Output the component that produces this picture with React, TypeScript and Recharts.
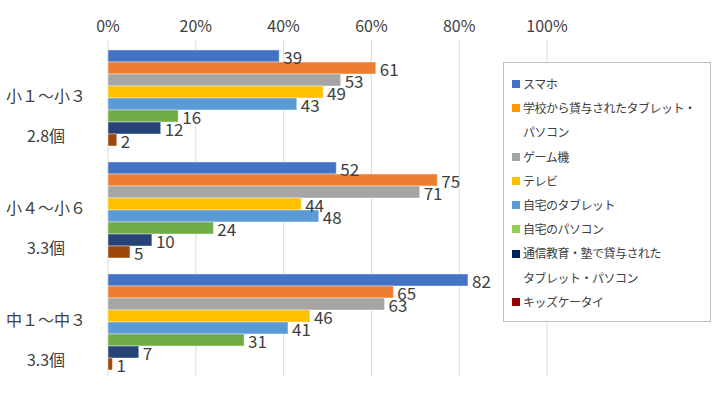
import { BarChart, Bar, XAxis, YAxis, CartesianGrid, LabelList } from 'recharts';

const categories = ['小１～小３', '小４～小６', '中１～中３'];
const counts = ['2.8個', '3.3個', '3.3個'];
const seriesNames = [
  'スマホ',
  '学校から貸与されたタブレット・パソコン',
  'ゲーム機',
  'テレビ',
  '自宅のタブレット',
  '自宅のパソコン',
  '通信教育・塾で貸与されたタブレット・パソコン',
  'キッズケータイ',
];
const legendLines = [
  ['スマホ'],
  ['学校から貸与されたタブレット・', 'パソコン'],
  ['ゲーム機'],
  ['テレビ'],
  ['自宅のタブレット'],
  ['自宅のパソコン'],
  ['通信教育・塾で貸与された', 'タブレット・パソコン'],
  ['キッズケータイ'],
];
const sumaho = [39, 52, 82];
const gakkou = [61, 75, 65];
const game = [53, 71, 63];
const terebi = [49, 44, 46];
const jitakuTablet = [43, 48, 41];
const jitakuPc = [16, 24, 31];
const tsushin = [12, 10, 7];
const kids = [2, 5, 1];
const ticks = [0, 20, 40, 60, 80, 100];

const seriesValues = [sumaho, gakkou, game, terebi, jitakuTablet, jitakuPc, tsushin, kids];
const barColors = ['#4472C4', '#ED7D31', '#A5A5A5', '#FFC000', '#5B9BD5', '#70AD47', '#264478', '#9E480E'];
const legendColors = ['#4472C4', '#FF9900', '#A5A5A5', '#FFC000', '#5B9BD5', '#92D050', '#002060', '#990000'];

const data = categories.map((c, i) => {
  const row: Record<string, string | number> = { name: c, count: counts[i] };
  seriesNames.forEach((s, j) => (row['s' + j] = seriesValues[j][i]));
  return row;
});

const font = '"Noto Sans CJK JP", "Noto Sans", sans-serif';

const CategoryTick = (props: any) => {
  const { y, payload, index } = props;
  return (
    <g>
      <text x={46} y={y} dy={6} textAnchor="middle" fontSize={16} fill="#404040" fontFamily={font}>
        {payload.value}
      </text>
      <text x={46} y={y + 40} dy={6} textAnchor="middle" fontSize={16} fill="#404040" fontFamily={font}>
        {counts[index]}
      </text>
    </g>
  );
};

const LegendBox = () => (
  <div
    style={{
      position: 'absolute',
      left: 503,
      top: 62,
      width: 192,
      border: '1px solid #BFBFBF',
      background: '#fff',
      padding: '9px 6px 7px 8px',
      fontFamily: font,
      fontSize: 12,
      letterSpacing: -0.5,
      color: '#404040',
      lineHeight: '24.2px',
      whiteSpace: 'nowrap',
    }}
  >
    {legendLines.map((lines, i) => (
      <div key={i}>
        {lines.map((l, k) => (
          <div key={k} style={{ display: 'flex', alignItems: 'center', paddingLeft: k > 0 ? 11 : 0 }}>
            {k === 0 && (
              <span style={{ width: 8, height: 8, background: legendColors[i], marginRight: 3, display: 'inline-block' }} />
            )}
            {l}
          </div>
        ))}
      </div>
    ))}
  </div>
);

export default function App() {
  return (
    <div style={{ position: 'absolute', left: 0, top: 0, width: 713, height: 394, background: '#fff' }}>
      <BarChart
        width={713}
        height={394}
        data={data}
        layout="vertical"
        margin={{ top: 10, right: 166, bottom: 18, left: 0 }}
        barGap={0}
        barCategoryGap={10}
      >
        <CartesianGrid horizontal={false} stroke="#D9D9D9" />
        <XAxis
          type="number"
          orientation="top"
          domain={[0, 100]}
          ticks={ticks}
          height={30}
          axisLine={false}
          tickLine={false}
          tickFormatter={(v) => `${v}%`}
          tick={{ fontSize: 16, fill: '#404040', fontFamily: font }}
        />
        <YAxis type="category" dataKey="name" width={108} axisLine={false} tickLine={false} tick={<CategoryTick />} />
        {seriesNames.map((s, j) => (
          <Bar key={s} dataKey={'s' + j} name={s} fill={barColors[j]} stroke="#fff" strokeOpacity={0.4} isAnimationActive={false}>
            <LabelList dataKey={'s' + j} position="right" offset={4} fill="#404040" fontSize={17} fontFamily={font} dy={2} />
          </Bar>
        ))}
      </BarChart>
      <LegendBox />
    </div>
  );
}
